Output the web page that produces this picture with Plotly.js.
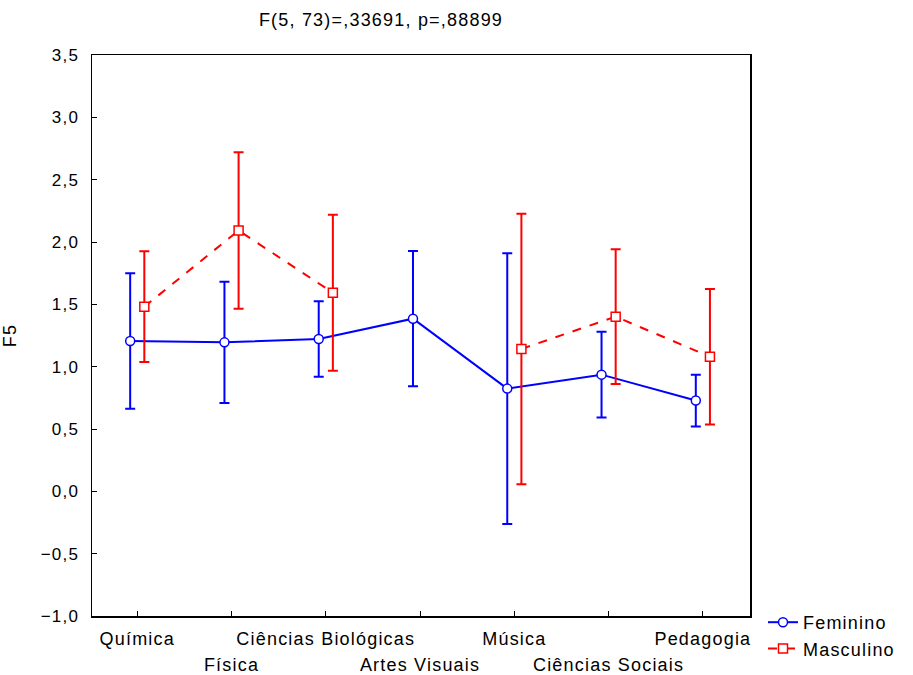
<!DOCTYPE html>
<html><head><meta charset="utf-8">
<script src="https://cdn.plot.ly/plotly-3.0.1.min.js"></script>
<style>body{margin:0;background:#fff}#c{width:913px;height:675px}svg text{letter-spacing:1.2px}</style>
</head><body><div id="c"></div>
<script>
const categories = ["Química","Física","Ciências Biológicas","Artes Visuais","Música","Ciências Sociais","Pedagogia"];
const femMean = [1.206, 1.195, 1.222, 1.385, 0.824, 0.936, 0.728];
const femErr  = [0.543, 0.486, 0.302, 0.542, 1.086, 0.344, 0.207];
const mascMean = [1.481, 2.092, 1.593, null, 1.142, 1.401, 1.080];
const mascErr  = [0.444, 0.628, 0.625, null, 1.085, 0.541, 0.543];
const yTicks = [-1.0,-0.5,0.0,0.5,1.0,1.5,2.0,2.5,3.0,3.5];

const idx = categories.map((c,i)=>i);
const off = 0.075;
const font = {family:"Liberation Sans, Arial, sans-serif", size:18, color:"#000"};

const traces = [
 {x: idx.map(i=>i-off), y: femMean, name:"Feminino", type:"scatter", mode:"lines+markers",
  line:{color:"#0000ff", width:2},
  marker:{symbol:"circle", size:9, color:"#fff", line:{color:"#0000ff", width:1.5}},
  error_y:{type:"data", array:femErr, visible:true, color:"#0000ff", thickness:2, width:5},
  xaxis:"x", yaxis:"y"},
 {x: idx.map(i=>i+off), y: mascMean, name:"Masculino", type:"scatter", mode:"lines+markers",
  connectgaps:false,
  line:{color:"#ff0000", width:2, dash:"dash"},
  marker:{symbol:"square", size:9, color:"#fff", line:{color:"#ff0000", width:1.5}},
  error_y:{type:"data", array:mascErr, visible:true, color:"#ff0000", thickness:2, width:5},
  xaxis:"x2", yaxis:"y"}
];

const layout = {
 width:913, height:675,
 margin:{l:92, r:163, t:55, b:59},
 paper_bgcolor:"#fff", plot_bgcolor:"#fff",
 font: font,
 separators:",.",
 showlegend:true,
 title:{text:"F(5, 73)=,33691, p=,88899", x:381/913, xref:"container", xanchor:"center", y:1-20/675, yref:"container", yanchor:"middle", font:{family:font.family,size:18,color:"#000"}},
 xaxis:{range:[-0.48,6.5], tickmode:"array", tickvals:idx,
   ticktext: categories.map((c,i)=> i%2===0 ? c : ""),
   ticks:"inside", ticklen:5, tickcolor:"#000", showline:true, linecolor:"#000", linewidth:1.5, mirror:true,
   showgrid:false, zeroline:false, tickfont:font, ticklabelstandoff:6},
 xaxis2:{overlaying:"x", matches:"x", anchor:"y", side:"bottom", range:[-0.48,6.5], tickmode:"array",
   tickvals: idx.filter(i=>i%2===1), ticktext: categories.filter((c,i)=>i%2===1),
   ticks:"", showline:false, showgrid:false, zeroline:false, tickfont:font, ticklabelstandoff:36},
 yaxis:{range:[-1.0,3.5], tickmode:"array", tickvals:yTicks, tickformat:".1f",
   ticks:"inside", ticklen:5, tickcolor:"#000", showline:true, linecolor:"#000", linewidth:1.5, mirror:true,
   showgrid:false, zeroline:false, tickfont:{family:font.family,size:17,color:"#000"}, ticklabelstandoff:8,
   title:{text:"F5", font:font, standoff:20}},
 legend:{xref:"container", yref:"container", x:763/913, xanchor:"left", y:1-604/675, yanchor:"top",
   font:{family:font.family,size:18,color:"#000"}, bgcolor:"rgba(0,0,0,0)", tracegroupgap:0, itemwidth:30}
};
Plotly.newPlot("c", traces, layout, {displayModeBar:false, staticPlot:true});
</script></body></html>
